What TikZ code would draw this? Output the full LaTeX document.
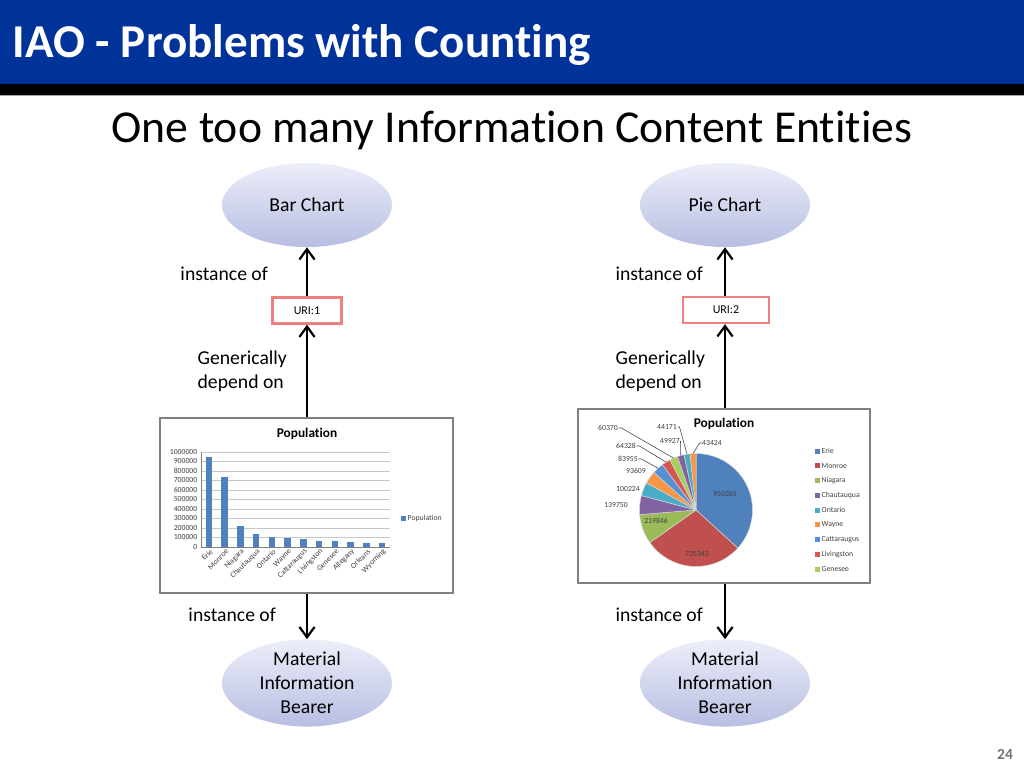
\documentclass[tikz,border=0pt]{standalone}
\usepackage{fontspec}
\setmainfont{Carlito}[Ligatures=NoCommon]
\usetikzlibrary{arrows.meta,shapes.geometric,positioning}
\definecolor{slideblue}{RGB}{0,51,153}
\definecolor{ellipsetop}{RGB}{236,238,249}
\definecolor{ellipsebot}{RGB}{184,190,226}
\definecolor{uriborder}{RGB}{240,128,128}
\definecolor{xlblue}{RGB}{79,129,189}
\definecolor{xlred}{RGB}{192,80,77}
\definecolor{xlgreen}{RGB}{155,187,89}
\definecolor{xlpurple}{RGB}{128,100,162}
\definecolor{xlaqua}{RGB}{75,172,198}
\definecolor{xlorange}{RGB}{247,150,70}
\definecolor{xlblueb}{RGB}{86,145,214}
\definecolor{xlredb}{RGB}{214,86,82}
\definecolor{xlgreenb}{RGB}{169,206,94}
\tikzset{
  concept/.style={ellipse, minimum width=42.5mm, minimum height=21mm, inner sep=0pt, shading=axis, top color=ellipsetop, bottom color=ellipsebot, align=center, font=\fontsize{14}{17}\selectfont},
  uribox/.style={draw=uriborder, line width=0.6mm, fill=white, minimum height=6.5mm, font=\fontsize{8.5}{10}\selectfont},
  rel/.style={-{Straight Barb[length=2.6mm,width=3.8mm]}, line width=0.55mm},
  reltext/.style={font=\fontsize{14}{17}\selectfont, align=left, inner sep=0pt},
  chartbox/.style={draw=black!50, line width=0.35mm, fill=white, inner sep=0pt},
  charttitle/.style={font=\bfseries\fontsize{9.5}{11}\selectfont},
  charttext/.style={font=\fontsize{5.5}{6.5}\selectfont, text=black!75, inner sep=0.3pt},
  gridline/.style={draw=black!22, line width=0.2mm},
  leader/.style={draw=black!70, line width=0.15mm}
}

\begin{document}
\begin{tikzpicture}[x=0.25mm, y=-0.25mm]
  \useasboundingbox (0,0) rectangle (1024,768);
  \fill[slideblue] (0,0) rectangle (1024,84);
  \fill[black] (0,84) rectangle (1024,95);
  \draw[black!35, line width=0.2mm] (0,95.5) -- (1024,95.5);
  \node[anchor=west, text=white, font=\bfseries\fontsize{33.5}{38}\selectfont] (title) at (8,45) {IAO - Problems with Counting};
  \node[font=\fontsize{32.5}{38}\selectfont] (subtitle) at (512,130) {One too many Information Content Entities};

  \node[concept] (bar) at (307,205) {Bar Chart};
  \node[concept] (pie) at (725,205) {Pie Chart};
  \node[concept] (mib1) at (307,683) {Material\\Information\\Bearer};
  \node[concept] (mib2) at (725,683) {Material\\Information\\Bearer};
  \node[uribox, minimum width=17.25mm] (uri1) at (307,310.5) {URI:1};
  \node[uribox, minimum width=21.5mm] (uri2) at (726,310) {URI:2};
  \node[chartbox, minimum width=73.25mm, minimum height=43.75mm] (barchart) at (306.5,505.5) {};
  \node[chartbox, minimum width=73mm, minimum height=43.5mm] (piechart) at (724,496) {};

  \draw[rel] (uri1.north) -- (bar.south) node[reltext, midway, left=9.5mm, yshift=-0.5mm] (inst1) {instance of};
  \draw[rel] (uri1.south |- barchart.north) -- (uri1.south) node[reltext, midway, left=4.75mm] (dep1) {Generically\\depend on};
  \draw[rel] (uri1.south |- barchart.south) -- (mib1.north) node[reltext, midway, left=7.5mm, yshift=0.5mm] (inst2) {instance of};
  \draw[rel] (uri2.north -| pie.south) -- (pie.south) node[reltext, midway, left=5.25mm, yshift=-0.5mm] (inst3) {instance of};
  \draw[rel] (pie.south |- piechart.north) -- (uri2.south -| pie.south) node[reltext, midway, left=4.75mm, yshift=-1.25mm] (dep2) {Generically\\depend on};
  \draw[rel] (pie.south |- piechart.south) -- (mib2.north) node[reltext, midway, left=5.25mm, yshift=-0.75mm] (inst4) {instance of};

  % bar chart
  \node[charttitle] (bartitle) at (307,434) {Population};
  \foreach \v in {1,...,10}
    \draw[gridline] (201,{547-9.5*\v}) -- (390,{547-9.5*\v});
  \draw[black!50, line width=0.2mm] (201,452) -- (201,547) -- (390,547);
  \foreach \v in {0,...,10}
    \node[charttext, anchor=east] (ytick\v) at (198,{547-9.5*\v}) {\the\numexpr\v*100000\relax};
  \foreach \val/\name [count=\i] in {950.265/Erie, 735.343/Monroe, 219.846/Niagara, 139.750/Chautauqua, 100.224/Ontario, 93.609/Wayne, 83.955/Cattaraugus, 64.328/Livingston, 60.370/Genesee, 49.927/Allegany, 44.171/Orleans, 43.424/Wyoming}{
    \fill[xlblue] ({201+15.75*(\i-0.5)-3.25},547) rectangle ++(6.5,{-0.095*\val});
    \node[charttext, rotate=45, anchor=east] (cat\i) at ({201+15.75*(\i-0.5)+3},550) {\name};
  }
  \fill[xlblue] (401,515.5) rectangle ++(5,5);
  \node[charttext, anchor=west] (barleg) at (407,518) {Population};

  % pie chart
  \node[charttitle] (pietitle) at (724,424) {Population};
  \begin{scope}[shift={(696,510)}, x=0.25mm, y=0.25mm]
    \foreach \e/\c [count=\i, remember=\e as \s (initially 90)] in {-42.33/xlblue, -144.73/xlred, -175.34/xlgreen, -194.80/xlpurple, -208.76/xlaqua, -221.80/xlorange, -233.49/xlblueb, -242.45/xlredb, -250.86/xlgreenb, -257.81/xlpurple, -263.96/xlaqua, -270/xlorange}{
      \filldraw[fill=\c, draw=white!70!gray, line width=0.12mm] (0,0) -- (\s:56.5) arc[start angle=\s, end angle=\e, radius=56.5] -- cycle;
      \coordinate (edge\i) at ({(\s+\e)/2}:56.5);
    }
  \end{scope}
  \node[charttext] (p950265) at (725,494) {950265};
  \node[charttext] (p735343) at (697,554) {735343};
  \node[charttext] (p219846) at (656,521) {219846};
  \node[charttext] (p139750) at (616,505) {139750};
  \node[charttext] (p100224) at (628,489) {100224};
  \node[charttext] (p93609) at (636,471) {93609};
  \node[charttext] (p83955) at (628,459) {83955};
  \node[charttext] (p64328) at (626,446) {64328};
  \node[charttext] (p60370) at (608,428) {60370};
  \node[charttext] (p49927) at (670,441) {49927};
  \node[charttext] (p44171) at (667,427) {44171};
  \node[charttext] (p43424) at (712,443) {43424};
  \draw[leader] (p83955.east) -- ++(3,0) -- (edge7);
  \draw[leader] (p64328.east) -- ++(3,0) -- (edge8);
  \draw[leader] (p60370.east) -- ++(3,0) -- (edge9);
  \draw[leader] (p49927.east) -- (edge10);
  \draw[leader] (p44171.east) -- ++(2,0) -- (edge11);
  \draw[leader] (p43424.west) -- ++(-2,0) -- (edge12);
  \foreach \n/\c [count=\i] in {Erie/xlblue, Monroe/xlred, Niagara/xlgreen, Chautauqua/xlpurple, Ontario/xlaqua, Wayne/xlorange, Cattaraugus/xlblueb, Livingston/xlredb, Genesee/xlgreenb}{
    \fill[\c] (815,{451+14.75*(\i-1)-2.5}) rectangle ++(5,5);
    \node[charttext, anchor=west] (pieleg\i) at (821,{451+14.75*(\i-1)}) {\n};
  }

  \node[text=black!55, font=\bfseries\fontsize{11}{12}\selectfont] (pagenum) at (1005,754) {24};
\end{tikzpicture}
\end{document}
